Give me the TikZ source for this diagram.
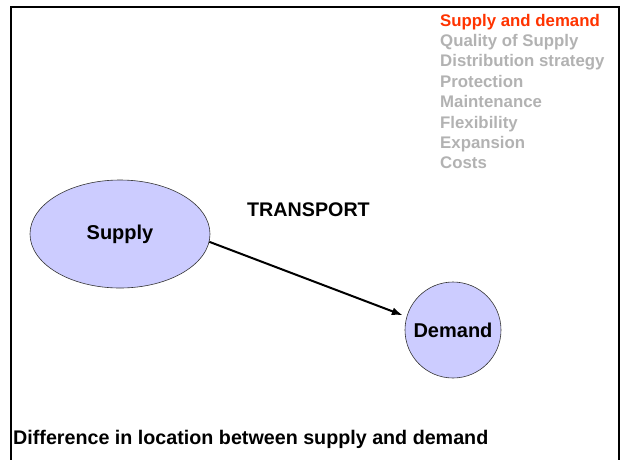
\documentclass[tikz,border=0pt]{standalone}
\usepackage{fontspec}
\setmainfont{Liberation Sans}
\usetikzlibrary{shapes.geometric,arrows.meta}
\definecolor{sdred}{HTML}{FF3300}
\definecolor{sdgray}{HTML}{B2B2B2}
\definecolor{sdfill}{HTML}{CCCCFF}
\begin{document}
\begin{tikzpicture}[x=1pt,y=-1pt,
    place/.style={draw=black!80,fill=sdfill,line width=0.6pt,inner sep=0pt,
        font=\fontsize{20}{24}\selectfont\bfseries},
    topic/.style={anchor=base west,inner sep=0pt,text=sdgray,
        font=\fontsize{16.8}{20}\selectfont\bfseries},
    label/.style={anchor=base west,inner sep=0pt,
        font=\fontsize{19.7}{24}\selectfont\bfseries}]
    % Page size and the open frame
    \useasboundingbox (0,0) rectangle (623,459);
    \draw[line width=2.8pt] (11,460) -- (11,7) -- (619,7) -- (619,460);

    % List of topics, the current one in red
    \node[topic,text=sdred] (topic1) at (440,26) {Supply and demand};
    \foreach \name [count=\i from 2] in {Quality of Supply, Distribution strategy,
        Protection, Maintenance, Flexibility, Expansion, Costs}
        \node[topic] (topic\i) at (440,{26+20.4*(\i-1)}) {\name};

    % Supply and demand places
    \node[place,ellipse,minimum width=180,minimum height=108] (supply) at (120,234) {Supply};
    \node[place,circle,minimum size=96] (demand) at (453,330) {Demand};

    % Transport between them
    \node[label] (transport) at (247,216) {TRANSPORT};
    \draw[-{Latex[length=11pt,width=8pt]},line width=2pt,shorten >=4pt]
        (supply.-5) -- (demand.164);

    % Caption
    \node[label] (caption) at (13,444) {Difference in location between supply and demand};
\end{tikzpicture}
\end{document}
